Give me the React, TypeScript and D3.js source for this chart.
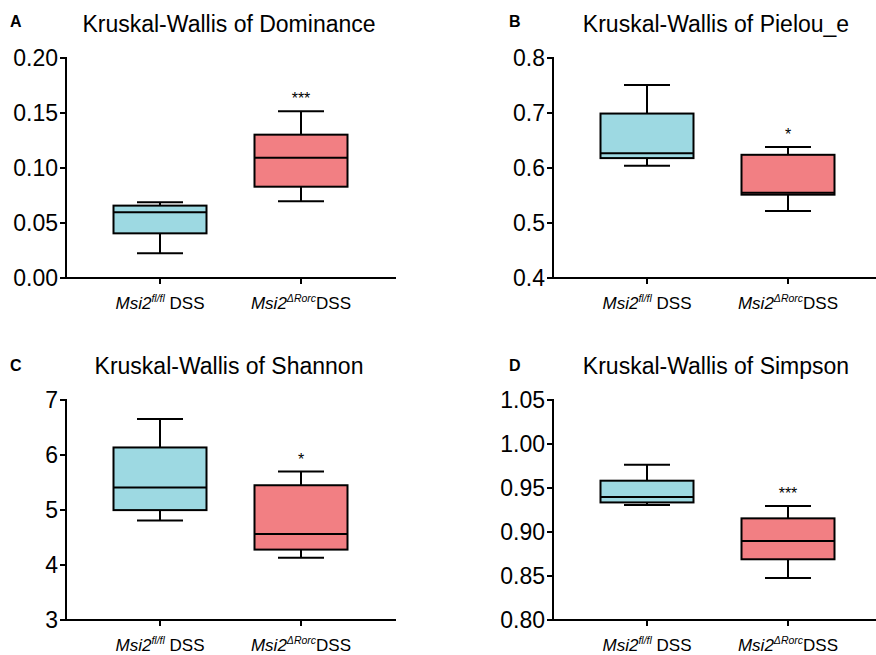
import React from 'react';
import * as d3 from 'd3';

// box stats per group: [whisker low, q1, median, q3, whisker high]
const groups = ['fl/fl', 'ΔRorc'];

const dominanceBoxes = [
  [0.0224, 0.0406, 0.0597, 0.0658, 0.0688],
  [0.0697, 0.083, 0.1094, 0.1303, 0.1515],
];
const pielouBoxes = [
  [0.604, 0.618, 0.627, 0.699, 0.751],
  [0.522, 0.5515, 0.555, 0.624, 0.638],
];
const shannonBoxes = [
  [4.81, 4.998, 5.41, 6.137, 6.654],
  [4.13, 4.28, 4.565, 5.45, 5.70],
];
const simpsonBoxes = [
  [0.9306, 0.9336, 0.9397, 0.9583, 0.9765],
  [0.8478, 0.869, 0.8898, 0.9155, 0.9295],
];

const dominanceTicks = ['0.00', '0.05', '0.10', '0.15', '0.20'];
const pielouTicks = ['0.4', '0.5', '0.6', '0.7', '0.8'];
const shannonTicks = ['3', '4', '5', '6', '7'];
const simpsonTicks = ['0.80', '0.85', '0.90', '0.95', '1.00', '1.05'];

const dominanceStars = ['', '***'];
const pielouStars = ['', '*'];
const shannonStars = ['', '*'];
const simpsonStars = ['', '***'];

const FILLS = ['#9DD9E2', '#F27F83'];
const FONT = 'Liberation Sans, Arial, Helvetica, sans-serif';

interface PanelProps {
  x: number;
  y: number;
  title: string;
  boxes: number[][];
  ticks: string[];
  stars: string[];
}

const Panel: React.FC<PanelProps> = ({ x, y, title, boxes, ticks, stars }) => {
  // plot area geometry (relative to panel origin)
  const axisX = 66;
  const top = 58;
  const bottom = 278;
  const axisLen = 330;

  const vals = ticks.map(Number);
  const yScale = d3.scaleLinear()
    .domain([vals[0], vals[vals.length - 1]])
    .range([bottom, top]);

  const xScale = d3.scalePoint<string>()
    .domain(groups)
    .range([axisX + 94, axisX + 235]);

  const boxW = 93;
  const capW = 46;

  return (
    <g transform={`translate(${x},${y})`} fontFamily={FONT}>
      <text x={axisX + 163} y={32} fontSize={23} textAnchor="middle">{title}</text>

      {/* y axis */}
      <line x1={axisX} x2={axisX} y1={top - 1} y2={bottom + 1} stroke="#000" strokeWidth={2} />
      {vals.map((v, i) => (
        <g key={i}>
          <line x1={axisX - 6} x2={axisX} y1={yScale(v)} y2={yScale(v)} stroke="#000" strokeWidth={2} />
          <text x={axisX - 8} y={yScale(v) + 8} fontSize={23} textAnchor="end">{ticks[i]}</text>
        </g>
      ))}

      {/* x axis */}
      <line x1={axisX - 1} x2={axisX + axisLen} y1={bottom} y2={bottom} stroke="#000" strokeWidth={2} />

      {groups.map((g, i) => {
        const cx = xScale(g)!;
        const [lo, q1, med, q3, hi] = boxes[i];
        return (
          <g key={g}>
            <line x1={cx} x2={cx} y1={bottom} y2={bottom + 6} stroke="#000" strokeWidth={2} />
            <text x={cx} y={bottom + 31} fontSize={17} textAnchor="middle">
              <tspan fontStyle="italic">Msi2</tspan>
              <tspan fontStyle="italic" fontSize={10.5} dy={-7}>{g}</tspan>
              <tspan dy={7}>{i === 0 ? ' DSS' : 'DSS'}</tspan>
            </text>

            {/* whiskers */}
            <line x1={cx} x2={cx} y1={yScale(hi)} y2={yScale(q3)} stroke="#000" strokeWidth={2} />
            <line x1={cx} x2={cx} y1={yScale(q1)} y2={yScale(lo)} stroke="#000" strokeWidth={2} />
            <line x1={cx - capW / 2} x2={cx + capW / 2} y1={yScale(hi)} y2={yScale(hi)} stroke="#000" strokeWidth={2} />
            <line x1={cx - capW / 2} x2={cx + capW / 2} y1={yScale(lo)} y2={yScale(lo)} stroke="#000" strokeWidth={2} />

            {/* box */}
            <rect
              x={cx - boxW / 2}
              y={yScale(q3)}
              width={boxW}
              height={yScale(q1) - yScale(q3)}
              fill={FILLS[i]}
              stroke="#000"
              strokeWidth={2}
            />
            <line x1={cx - boxW / 2} x2={cx + boxW / 2} y1={yScale(med)} y2={yScale(med)} stroke="#000" strokeWidth={2} />

            {stars[i] && (
              <text x={cx} y={yScale(hi) - 7} fontSize={16} textAnchor="middle">{stars[i]}</text>
            )}
          </g>
        );
      })}
    </g>
  );
};

export default function App() {
  return (
    <svg
      width={876}
      height={655}
      style={{ position: 'absolute', left: 0, top: 0, background: '#fff' }}
    >
      <rect width={876} height={655} fill="#fff" />
      <Panel x={0} y={0} title="Kruskal-Wallis of Dominance" boxes={dominanceBoxes} ticks={dominanceTicks} stars={dominanceStars} />
      <Panel x={487} y={0} title="Kruskal-Wallis of Pielou_e" boxes={pielouBoxes} ticks={pielouTicks} stars={pielouStars} />
      <Panel x={0} y={342} title="Kruskal-Wallis of Shannon" boxes={shannonBoxes} ticks={shannonTicks} stars={shannonStars} />
      <Panel x={487} y={342} title="Kruskal-Wallis of Simpson" boxes={simpsonBoxes} ticks={simpsonTicks} stars={simpsonStars} />
      <g fontFamily={FONT} fontSize={16} fontWeight="bold">
        <text x={10} y={27}>A</text>
        <text x={509} y={27}>B</text>
        <text x={10} y={371}>C</text>
        <text x={509} y={371}>D</text>
      </g>
    </svg>
  );
}
